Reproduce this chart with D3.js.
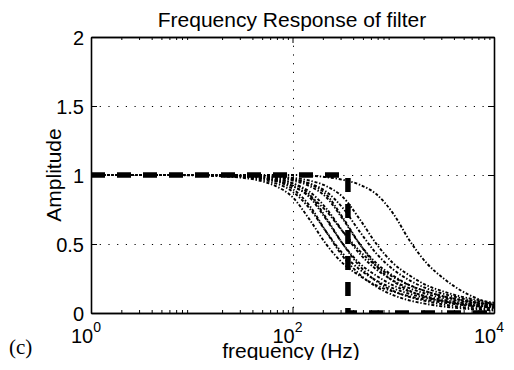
<!DOCTYPE html>
<html><head><meta charset="utf-8">
<script src="https://cdn.jsdelivr.net/npm/d3@7"></script>
<style>body{margin:0;background:#fff;overflow:hidden}</style>
</head><body><svg id="c" width="514" height="370"></svg>
<script>
// ---- data ----
const freqs = [1,10,14.68,21.54,31.62,46.42,68.13,100,146.8,215.4,316.2,464.2,681.3,1000,1468,2154,3162,4642,6813,10000];
const respA = [1,0.998,0.995,0.99,0.98,0.96,0.92,0.84,0.68,0.5,0.36,0.27,0.2,0.155,0.12,0.095,0.075,0.06,0.048,0.038];
const respB = [1,0.999,0.997,0.993,0.985,0.97,0.94,0.88,0.76,0.59,0.43,0.315,0.235,0.178,0.138,0.108,0.085,0.068,0.054,0.043];
const respC = [1,1.0,0.999,0.997,0.993,0.985,0.97,0.94,0.86,0.69,0.5,0.34,0.23,0.16,0.115,0.085,0.062,0.045,0.033,0.024];
const respD = [1,1.0,0.998,0.995,0.99,0.98,0.96,0.92,0.84,0.68,0.5,0.36,0.27,0.2,0.155,0.12,0.095,0.075,0.06,0.048];
const respE = [1,1.0,0.999,0.997,0.993,0.985,0.97,0.94,0.88,0.76,0.59,0.43,0.315,0.235,0.178,0.138,0.108,0.085,0.068,0.054];
const respF = [1,1.0,0.999,0.996,0.99,0.98,0.96,0.92,0.85,0.74,0.59,0.45,0.34,0.26,0.2,0.155,0.12,0.095,0.075,0.06];
const respG = [1,1.0,1.0,0.998,0.995,0.99,0.98,0.96,0.92,0.84,0.68,0.5,0.36,0.27,0.2,0.155,0.12,0.095,0.075,0.06];
const respH = [1,1,1,0.999,0.997,0.993,0.985,0.97,0.94,0.88,0.76,0.59,0.43,0.315,0.235,0.178,0.138,0.108,0.085,0.068];
const respI = [1,1,1,0.999,0.997,0.993,0.985,0.97,0.935,0.86,0.69,0.5,0.34,0.23,0.16,0.115,0.085,0.062,0.045,0.033];
const respJ = [1,1,1,1,0.998,0.995,0.99,0.98,0.96,0.92,0.84,0.68,0.5,0.36,0.27,0.2,0.155,0.12,0.095,0.075];
const respK = [1,1.0,0.998,0.995,0.99,0.98,0.955,0.9,0.78,0.59,0.41,0.28,0.19,0.13,0.09,0.065,0.047,0.034,0.025,0.018];
const respWide = [1,1,1,1,1,1,1,1,0.995,0.985,0.965,0.93,0.86,0.72,0.52,0.36,0.25,0.165,0.105,0.058];
const responses = [respA,respB,respC,respD,respE,respF,respG,respH,respI,respJ,respK,respWide];

const idealFreq = [1,355,355,10000];
const idealAmp = [1,1,0,0];

const xTicks = [1,100,10000];
const xTickExp = ["0","2","4"];
const yTicks = [0,0.5,1,1.5,2];
const yTickLabels = ["0","0.5","1","1.5","2"];
const titleText = "Frequency Response of filter";
const xLabelText = "frequency (Hz)";
const yLabelText = "Amplitude";
const panelText = "(c)";

// ---- drawing ----
const svg = d3.select("#c");
const L=91, R=494, T=37, B=313;
const x = d3.scaleLog().domain([1,1e4]).range([L,R]);
const y = d3.scaleLinear().domain([0,2]).range([B,T]);
const font = "'Liberation Sans', Arial, sans-serif";

svg.append("rect").attr("width",514).attr("height",370).attr("fill","#fff");
svg.append("defs").append("clipPath").attr("id","pc")
  .append("rect").attr("x",L).attr("y",T).attr("width",R-L).attr("height",B-T);

// grid
const grid = svg.append("g").attr("stroke","#000").attr("stroke-width",1).attr("stroke-dasharray","1.2,7.5");
grid.selectAll(".gx").data([100]).join("line")
  .attr("x1",d=>Math.round(x(d))+0.5).attr("x2",d=>Math.round(x(d))+0.5).attr("y1",T).attr("y2",B);
grid.selectAll(".gy").data([0.5,1,1.5]).join("line")
  .attr("y1",d=>Math.round(y(d))+0.5).attr("y2",d=>Math.round(y(d))+0.5).attr("x1",L).attr("x2",R);

// curves
const plot = svg.append("g").attr("clip-path","url(#pc)");
const line = d3.line().x(d=>x(d[0])).y(d=>y(d[1])).curve(d3.curveMonotoneX);
responses.forEach(r=>{
  plot.append("path").datum(freqs.map((f,i)=>[f,r[i]]))
    .attr("d",line).attr("fill","none").attr("stroke","#000")
    .attr("stroke-width",1.9).attr("stroke-dasharray","3,1.8,1.4,1.8");
});
const lineLin = d3.line().x(d=>x(d[0])).y(d=>y(d[1]));
plot.append("path").datum(idealFreq.map((f,i)=>[f,idealAmp[i]]))
  .attr("d",lineLin).attr("fill","none").attr("stroke","#000")
  .attr("stroke-width",5.5).attr("stroke-dasharray","14,12");

// axes box with ticks
const minor = [];
for (let e=0;e<4;e++) for (let m=2;m<=9;m++) minor.push(m*Math.pow(10,e));
function addAxis(axisGen, tx, ty){
  const g = svg.append("g").attr("transform",`translate(${tx},${ty})`).call(axisGen);
  g.selectAll("text").remove();
  g.select(".domain").attr("stroke-width",1.6);
  g.selectAll(".tick line").attr("stroke-width",1);
  return g;
}
addAxis(d3.axisBottom(x).tickValues(xTicks).tickSize(-6).tickSizeOuter(0),0,B);
addAxis(d3.axisTop(x).tickValues(xTicks).tickSize(-6).tickSizeOuter(0),0,T);
addAxis(d3.axisBottom(x).tickValues(minor).tickSize(-3).tickSizeOuter(0),0,B);
addAxis(d3.axisTop(x).tickValues(minor).tickSize(-3).tickSizeOuter(0),0,T);
addAxis(d3.axisLeft(y).tickValues(yTicks).tickSize(-6).tickSizeOuter(0),L,0);
addAxis(d3.axisRight(y).tickValues(yTicks).tickSize(-6).tickSizeOuter(0),R,0);

// tick labels
const xl = svg.append("g").attr("font-family",font).attr("fill","#000");
xTicks.forEach((t,i)=>{
  const tx = xl.append("text").attr("x",x(t)-5).attr("y",343).attr("font-size",20).attr("text-anchor","middle");
  tx.append("tspan").text("10");
  tx.append("tspan").attr("dy",-11).attr("font-size",14).text(xTickExp[i]);
});
svg.append("g").attr("font-family",font).selectAll("text").data(yTicks).join("text")
  .attr("x",84).attr("y",d=>y(d)+8).attr("text-anchor","end").attr("font-size",20)
  .text((d,i)=>yTickLabels[i]);

// labels
svg.append("text").attr("x",292).attr("y",27).attr("text-anchor","middle")
  .attr("font-family",font).attr("font-size",21).text(titleText);
svg.append("text").attr("x",291).attr("y",358).attr("text-anchor","middle")
  .attr("font-family",font).attr("font-size",21).text(xLabelText);
svg.append("text").attr("transform","translate(61,175) rotate(-90)").attr("text-anchor","middle")
  .attr("font-family",font).attr("font-size",21).text(yLabelText);
svg.append("text").attr("x",9).attr("y",354)
  .attr("font-family","'Liberation Serif','DejaVu Serif',serif").attr("font-size",21).text(panelText);

// crop band at bottom (as in the reference)
svg.append("rect").attr("x",0).attr("y",360).attr("width",514).attr("height",10).attr("fill","#fff");
</script></body></html>
